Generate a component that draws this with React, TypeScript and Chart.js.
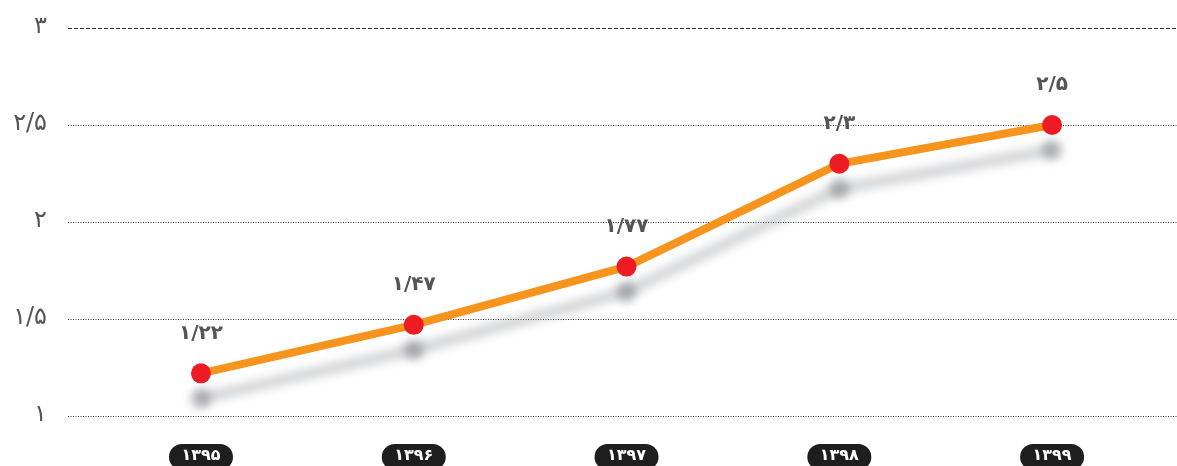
import React, { useEffect, useRef } from 'react';
import { Chart, registerables } from 'chart.js';

Chart.register(...registerables);

const years: string[] = ['1395', '1396', '1397', '1398', '1399'];
const values: number[] = [1.22, 1.47, 1.77, 2.3, 2.5];
const valueLabels: string[] = ['1.22', '1.47', '1.77', '2.3', '2.5'];
const yTicks: number[] = [1, 1.5, 2, 2.5, 3];

const FONT = '"DejaVu Sans", sans-serif';

const toFa = (s: string) =>
  s.replace(/[0-9]/g, (d) => '۰۱۲۳۴۵۶۷۸۹'[Number(d)]).replace('.', '/');

const decorPlugin = {
  id: 'decor',
  beforeDatasetsDraw(chart: any) {
    const { ctx, chartArea, scales } = chart;
    const y = scales.y;
    ctx.save();
    // grid lines + y labels
    y.ticks.forEach((tk: any) => {
      const t = tk.value;
      const py = Math.round(y.getPixelForValue(t)) + 0.5;
      ctx.beginPath();
      ctx.setLineDash(t === 3 ? [4, 2] : [1, 1.5]);
      ctx.strokeStyle = '#333';
      ctx.lineWidth = 1;
      ctx.moveTo(chartArea.left, py);
      ctx.lineTo(chart.width, py);
      ctx.stroke();
      ctx.setLineDash([]);
      ctx.font = `24px ${FONT}`;
      ctx.fillStyle = '#555';
      ctx.textAlign = 'right';
      ctx.textBaseline = 'middle';
      ctx.fillText(toFa(String(t)), 47, py - 2);
    });
    // shadow
    const meta = chart.getDatasetMeta(0);
    const pts = meta.data.map((p: any) => ({ x: p.x, y: p.y + 25 }));
    ctx.filter = 'blur(5px)';
    ctx.strokeStyle = 'rgba(140,142,148,0.38)';
    ctx.lineWidth = 11;
    ctx.lineJoin = 'round';
    ctx.beginPath();
    pts.forEach((p: any, i: number) => (i === 0 ? ctx.moveTo(p.x, p.y) : ctx.lineTo(p.x, p.y)));
    ctx.stroke();
    ctx.fillStyle = 'rgba(120,122,128,0.55)';
    pts.forEach((p: any) => {
      ctx.beginPath();
      ctx.arc(p.x, p.y, 10, 0, Math.PI * 2);
      ctx.fill();
    });
    ctx.filter = 'none';
    ctx.restore();
  },
  afterDatasetsDraw(chart: any) {
    const { ctx } = chart;
    const meta = chart.getDatasetMeta(0);
    ctx.save();
    ctx.font = `bold 20px ${FONT}`;
    ctx.fillStyle = '#555';
    ctx.textAlign = 'center';
    ctx.textBaseline = 'middle';
    meta.data.forEach((p: any, i: number) => {
      ctx.fillText(toFa(valueLabels[i]), p.x, p.y - 40);
    });
    ctx.restore();
  },
  afterDraw(chart: any) {
    const { ctx, scales } = chart;
    const x = scales.x;
    ctx.save();
    years.forEach((yr, i) => {
      const px = x.getPixelForValue(i);
      const w = 64;
      const h = 26;
      const top = 444;
      ctx.beginPath();
      ctx.roundRect(px - w / 2, top, w, h, 13);
      ctx.fillStyle = '#1e1e1e';
      ctx.fill();
      ctx.font = `bold 16px ${FONT}`;
      ctx.fillStyle = '#fff';
      ctx.textAlign = 'center';
      ctx.textBaseline = 'middle';
      ctx.fillText(toFa(yr), px, 456);
    });
    ctx.restore();
  },
};

export default function App() {
  const ref = useRef<HTMLCanvasElement | null>(null);
  useEffect(() => {
    if (!ref.current) return;
    const chart = new Chart(ref.current, {
      type: 'line',
      data: {
        datasets: [
          {
            data: values.map((v, i) => ({ x: i, y: v })),
            borderColor: '#F7941D',
            borderWidth: 8,
            pointBackgroundColor: '#ED1C24',
            pointBorderWidth: 0,
            pointRadius: 10,
            tension: 0,
            clip: false,
          },
        ],
      },
      options: {
        animation: false,
        responsive: false,
        layout: { padding: { top: 28, bottom: 50, left: 68, right: 0 } },
        plugins: { legend: { display: false }, tooltip: { enabled: false } },
        scales: {
          x: { type: 'linear', min: -0.625, max: 4.54, display: false },
          y: {
            min: 1,
            max: 3,
            display: false,
            afterBuildTicks: (s: any) => {
              s.ticks = yTicks.map((v) => ({ value: v }));
            },
          },
        },
      },
      plugins: [decorPlugin],
    } as any);
    return () => chart.destroy();
  }, []);
  return (
    <div style={{ position: 'fixed', left: 0, top: 0, width: 1177, height: 466, background: '#fff' }}>
      <canvas ref={ref} width={1177} height={466} style={{ display: 'block' }} />
    </div>
  );
}
